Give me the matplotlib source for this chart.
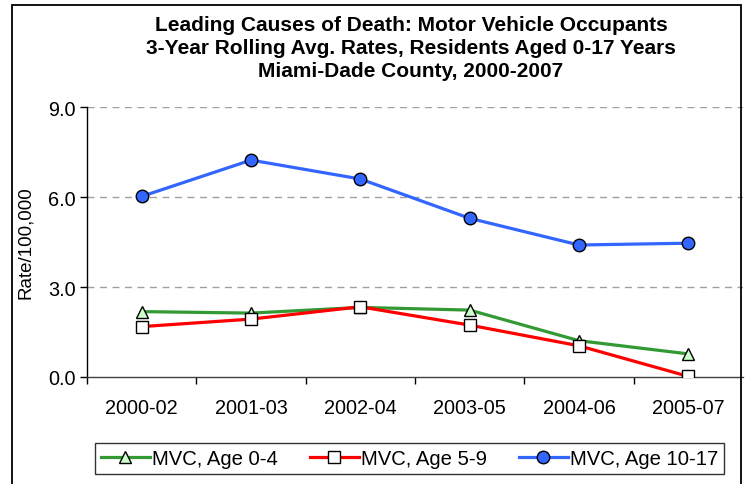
import matplotlib
matplotlib.use("Agg")
import matplotlib.pyplot as plt
from matplotlib.patches import Rectangle
import numpy as np

plt.rcParams['font.family'] = ['Liberation Sans', 'DejaVu Sans']

categories = ["2000-02", "2001-03", "2002-04", "2003-05", "2004-06", "2005-07"]
age_0_4 = [2.18, 2.13, 2.32, 2.23, 1.21, 0.77]
age_5_9 = [1.68, 1.93, 2.34, 1.73, 1.04, 0.02]
age_10_17 = [6.02, 7.23, 6.60, 5.29, 4.40, 4.46]
yticks = [0.0, 3.0, 6.0, 9.0]
title = ("Leading Causes of Death: Motor Vehicle Occupants\n"
         "3-Year Rolling Avg. Rates, Residents Aged 0-17 Years\n"
         "Miami-Dade County, 2000-2007")

W, H = 747, 485
fig = plt.figure(figsize=(W / 100, H / 100), dpi=100)
fig.patch.set_facecolor("white")

# outer chart border
fig.add_artist(Rectangle((12 / W, -0.02), (741 - 12) / W, 1 - 6 / H + 0.02,
                         transform=fig.transFigure, fill=False,
                         edgecolor="black", linewidth=1.3))

ax = fig.add_axes([87 / W, (H - 378) / H, (743 - 87) / W, 270 / H])
x = np.arange(len(categories))

ax.plot(x, age_0_4, color="#339933", lw=2.3, marker="^", ms=9,
        mfc="#CCFFCC", mec="black", mew=1.0, label="MVC, Age 0-4", zorder=3)
ax.plot(x, age_5_9, color="#FF0000", lw=2.3, marker="s", ms=8.5,
        mfc="white", mec="black", mew=1.0, label="MVC, Age 5-9", zorder=3)
ax.plot(x, age_10_17, color="#3366FF", lw=2.3, marker="o", ms=9,
        mfc="#3366FF", mec="black", mew=1.0, label="MVC, Age 10-17", zorder=3)

ax.set_xlim(-0.5, len(categories) - 0.5)
ax.set_ylim(0, 9)
ax.set_yticks(yticks)
ax.set_yticklabels([f"{v:.1f}" for v in yticks], fontsize=14.3)
ax.set_xticks(x)
ax.set_xticklabels(categories, fontsize=14.3)
ax.set_xticks(np.arange(-0.5, len(categories) - 0.9, 1.0), minor=True)
ax.tick_params(axis="x", which="major", length=0, pad=15)
ax.tick_params(axis="x", which="minor", length=5, width=1, direction="out")
ax.tick_params(axis="y", length=5, width=1, direction="out", pad=3)

for v in yticks[1:]:
    ax.axhline(v, color="#A0A0A0", lw=1.0, ls=(0, (5, 4)), zorder=1)

for s in ["top", "right"]:
    ax.spines[s].set_visible(False)
ax.spines["left"].set_linewidth(1.0)
ax.spines["bottom"].set_linewidth(1.0)
ax.spines["bottom"].set_color("#404040")

ax.set_ylabel("Rate/100,000", fontsize=13.5)
ax.yaxis.set_label_coords(-(87 - 34) / 656, 0.5)

fig.text(411 / W, 1 - 16 / H, title, ha="center", va="top",
         fontsize=15, fontweight="bold", linespacing=1.26)

leg = fig.legend(loc="center", bbox_to_anchor=(409.5 / W, (H - 459.5) / H),
                 ncol=3, fontsize=14.6, frameon=True, fancybox=False,
                 edgecolor="black", handlelength=2.4, handletextpad=0.1,
                 columnspacing=1.6, borderpad=0.3, borderaxespad=0)
leg.get_frame().set_linewidth(1.0)

fig.savefig("out.png", dpi=100, facecolor="white")
